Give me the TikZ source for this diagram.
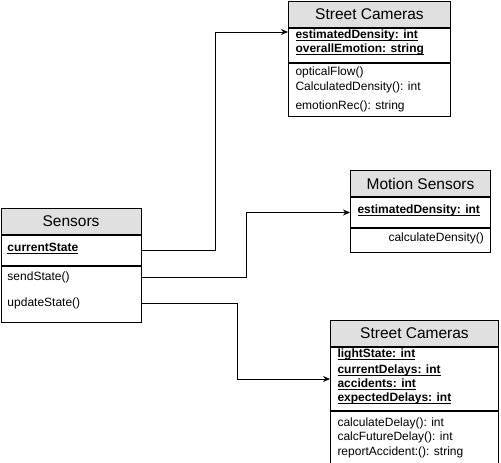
\documentclass[tikz,border=0pt]{standalone}
\usepackage{fontspec}
\setmainfont{Liberation Sans}
\usetikzlibrary{arrows.meta}

\newcommand{\prop}[1]{\setbox0\hbox{\bfseries #1}\rlap{\rule[-1.7pt]{\wd0}{0.8pt}}\box0}

\tikzset{
  head/.style={draw, fill=black!12, anchor=north west, inner sep=0pt, minimum height=26pt, font=\fontsize{15.5}{18}\selectfont},
  part/.style={draw, fill=white, anchor=north west, inner sep=0pt},
  entry/.style={anchor=west, inner sep=0pt, text height=9.5pt, text depth=2pt, font=\fontsize{12}{14}\selectfont},
  assoc/.style={-{Stealth[length=7pt,width=6pt]}}
}

\begin{document}
\begin{tikzpicture}[x=1pt,y=-1pt,line width=1pt]
\useasboundingbox (0,0) rectangle (501,463);

% the classes, each one a header and two parts

\node[head, minimum width=162pt] (camA) at (288,1) {Street Cameras};
\node[part, minimum width=162pt, minimum height=34pt] (camAattr) at (camA.south west) {};
\node[part, minimum width=162pt, minimum height=53pt] (camAmeth) at (camAattr.south west) {};

\node[head, minimum width=140pt] (sens) at (0.5,208) {Sensors};
\node[part, minimum width=140pt, minimum height=30pt] (sensAttr) at (sens.south west) {};
\node[part, minimum width=140pt, minimum height=56pt] (sensMeth) at (sensAttr.south west) {};

\node[head, minimum width=140pt] (mot) at (350,170) {Motion Sensors};
\node[part, minimum width=140pt, minimum height=30pt] (motAttr) at (mot.south west) {};
\node[part, minimum width=140pt, minimum height=24pt] (motMeth) at (motAttr.south west) {};

\node[head, minimum width=168pt] (camB) at (330,320) {Street Cameras};
\node[part, minimum width=168pt, minimum height=63pt] (camBattr) at (camB.south west) {};
\node[part, minimum width=168pt, minimum height=53pt] (camBmeth) at (camBattr.south west) {};

% the entries of the parts

\foreach \y/\val/\n in {35/{\prop{estimatedDensity: int}}/estA,49/{\prop{overallEmotion: string}}/emoA,
  72/opticalFlow()/flowA,87/CalculatedDensity(): int/calcA,106/emotionRec(): string/recA}
\node[entry] (\n) at (295,\y) {\val};

\foreach \y/\val/\n in {248/{\prop{currentState}}/curSt,277/sendState()/sendSt,303/updateState()/updSt}
\node[entry] (\n) at (7,\y) {\val};

\node[entry] (estM) at (357,210) {\prop{estimatedDensity: int}};
\node[entry] (calcM) at (388,238) {calculateDensity()};

\foreach \y/\val/\n in {354/{\prop{lightState: int}}/lightB,370/{\prop{currentDelays: int}}/curB,
  384/{\prop{accidents: int}}/accB,398/{\prop{expectedDelays: int}}/expB,
  423/calculateDelay(): int/delB,437/calcFutureDelay(): int/futB,452/reportAccident:(): string/repB}
\node[entry] (\n) at (337,\y) {\val};

% the connectors

\draw[assoc] (sensAttr.east) -- ++(74,0) |- ([yshift=-4pt]camAattr.north west);
\draw[assoc] (sensMeth.east |- sendSt) -- ++(105,0) |- (motAttr.west);
\draw[assoc] (sensMeth.east |- updSt) -- ++(96,0) |- (camBattr.west);

\end{tikzpicture}
\end{document}
